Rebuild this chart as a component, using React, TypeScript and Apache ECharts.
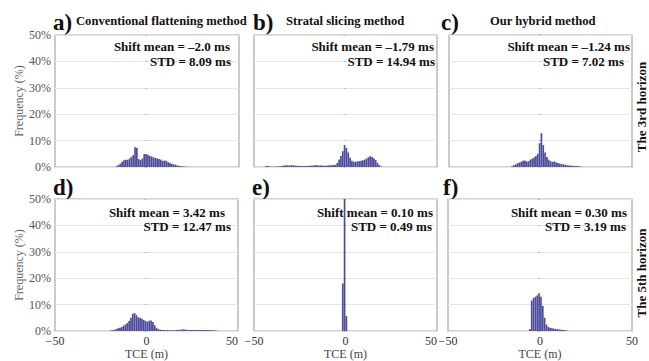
import React, { useEffect, useRef } from "react";
import * as echarts from "echarts";

// Histogram data: frequency (%) per 1 m TCE bin, starting at the given bin edge
const binStartA = -17;
const freqA = [0.3, 0.8, 1.3, 2.0, 2.6, 2.8, 2.7, 3.2, 3.8, 4.5, 7.5, 7.3, 3.0, 2.6, 3.2, 4.9, 4.9, 4.6, 4.2, 4.0, 3.7, 3.4, 3.2, 3.0, 2.8, 2.3, 2.5, 2.3, 1.8, 1.5, 1.2, 1.0, 0.9, 0.6, 0.4, 0.3, 0.2, 0.1, 0.1];

const binStartB = -44;
const freqB = [0.4, 0.4, 0.2, 0.1, 0.1, 0.1, 0.2, 0.2, 0.3, 0.4, 0.6, 0.7, 0.6, 0.6, 0.7, 0.6, 0.5, 0.5, 0.4, 0.4, 0.4, 0.3, 0.4, 0.4, 0.5, 0.5, 0.6, 0.7, 0.7, 0.6, 0.6, 0.5, 0.5, 0.5, 0.6, 0.7, 0.7, 0.8, 0.8, 1.5, 2.8, 4.2, 6.0, 8.3, 7.2, 5.5, 3.5, 2.4, 2.0, 2.0, 2.1, 2.2, 2.4, 2.6, 2.8, 3.2, 3.7, 4.1, 3.8, 3.3, 2.6, 1.6, 0.7, 0.2];

const binStartC = -16;
const freqC = [0.3, 0.7, 1.0, 1.4, 1.7, 2.0, 2.4, 2.5, 2.1, 2.2, 2.8, 3.2, 3.6, 4.2, 5.0, 9.0, 12.8, 8.3, 5.5, 3.8, 2.8, 2.2, 2.0, 2.1, 1.8, 1.5, 1.3, 1.1, 1.0, 0.8, 0.7, 0.6, 0.5, 0.5, 0.4, 0.4, 0.3, 0.2, 0.1];

const binStartD = -20;
const freqD = [0.2, 0.3, 0.5, 0.7, 1.0, 1.2, 1.5, 2.0, 2.5, 3.0, 3.8, 5.0, 6.5, 6.8, 6.0, 5.2, 5.0, 4.6, 4.2, 3.8, 3.5, 3.9, 4.0, 3.4, 2.2, 1.2, 0.7, 0.5, 0.4, 0.4, 0.3, 0.3, 0.3, 0.3, 0.3, 0.3, 0.4, 0.4, 0.5, 0.6, 0.6, 0.5, 0.4, 0.4, 0.4, 0.4, 0.4, 0.4, 0.4, 0.4, 0.4, 0.4, 0.4, 0.4, 0.4, 0.3, 0.3, 0.2, 0.1];

const binStartE = -2;
const freqE = [18.0, 76.0, 5.7];

const binStartF = -6;
const freqF = [0.8, 11.5, 12.5, 13.0, 13.5, 14.3, 13.0, 9.5, 5.0, 2.5, 1.6, 1.2, 1.0, 0.9, 0.8, 0.7, 0.6, 0.5, 0.4, 0.3, 0.2];

const panelLetters = ["a)", "b)", "c)", "d)", "e)", "f)"];
const methodTitles = ["Conventional flattening method", "Stratal slicing method", "Our hybrid method"];
const shiftMeans = ["\u20132.0", "\u20131.79", "\u20131.24", "3.42", "0.10", "0.30"];
const stds = ["8.09", "14.94", "7.02", "12.47", "0.49", "3.19"];
const rowLabels = ["The 3rd horizon", "The 5th horizon"];
const yTicks = [0, 10, 20, 30, 40, 50];

const starts = [binStartA, binStartB, binStartC, binStartD, binStartE, binStartF];
const freqs = [freqA, freqB, freqC, freqD, freqE, freqF];

// layout
const grids = [
  { left: 55, top: 35, width: 184, height: 132 },
  { left: 254, top: 35, width: 183, height: 132 },
  { left: 449, top: 35, width: 183, height: 132 },
  { left: 55, top: 199, width: 183, height: 133 },
  { left: 254, top: 199, width: 183, height: 133 },
  { left: 448, top: 199, width: 184, height: 133 },
];
const letterPos = [
  [53, 22], [253, 22], [441, 22], [53, 187], [252, 187], [443, 187],
];
const titlePos = [[76, 21], [286, 21], [490, 21]];
const annotPos = [
  [230, 46, 231, 61],
  [434, 46, 435, 61],
  [630, 46, 624, 61],
  [225, 212, 231, 226],
  [433, 212, 432, 226],
  [627, 212, 626, 226],
];
const rowLabelPos = [[641, 107], [641, 273]];

const SERIF = '"Liberation Serif", "Times New Roman", serif';
const BAR = "#4b4b9d";

export default function App() {
  const ref = useRef<HTMLDivElement>(null);
  useEffect(() => {
    if (!ref.current) return;
    const chart = echarts.init(ref.current, undefined, { renderer: "svg" });
    const fmtX = (v: number) => (v < 0 ? "\u2212" + Math.abs(v) : String(v));

    const xAxis = grids.map((_, i) => ({
      type: "value",
      gridIndex: i,
      min: -50,
      max: 50,
      interval: 50,
      axisLine: { show: false },
      axisTick: { show: false },
      splitLine: { show: false },
      axisLabel: {
        show: i >= 3,
        margin: 4,
        fontFamily: SERIF,
        fontSize: 12,
        color: "#333",
        formatter: fmtX,
        showMinLabel: true,
        showMaxLabel: true,
        alignMaxLabel: i === 3 || i === 4 ? "right" : "center",
      },
      name: i >= 3 ? "TCE (m)" : "",
      nameLocation: "middle",
      nameGap: 17,
      nameTextStyle: { fontFamily: SERIF, fontSize: 12, color: "#444" },
    }));

    const yAxis = grids.map((_, i) => ({
      type: "value",
      gridIndex: i,
      min: yTicks[0],
      max: yTicks[yTicks.length - 1],
      interval: 10,
      axisLine: { show: false },
      axisTick: { show: true, length: 2, lineStyle: { color: "#bbb" } },
      splitLine: { show: true, lineStyle: { color: "#e6e6e6", width: 1 } },
      axisLabel: {
        show: i % 3 === 0,
        margin: 4,
        fontFamily: SERIF,
        fontSize: 12,
        color: "#555",
        formatter: "{value}%",
      },
      name: i % 3 === 0 ? "Frequency (%)" : "",
      nameLocation: "middle",
      nameGap: 30,
      nameTextStyle: { fontFamily: SERIF, fontSize: 12, color: "#666" },
    }));

    const series = freqs.map((arr, i) => ({
      type: "bar",
      xAxisIndex: i,
      yAxisIndex: i,
      barWidth: 1.7,
      clip: true,
      itemStyle: { color: BAR },
      data: arr.map((v, k) => [starts[i] + k + 0.5, v]),
      z: 3,
    }));

    const graphic: any[] = [];
    panelLetters.forEach((t, i) => {
      graphic.push({
        type: "text",
        x: letterPos[i][0],
        y: letterPos[i][1],
        style: {
          text: t,
          font: `bold 23px ${SERIF}`,
          fill: "#111",
          textAlign: "left",
          textVerticalAlign: "middle",
        },
      });
    });
    methodTitles.forEach((t, i) => {
      graphic.push({
        type: "text",
        x: titlePos[i][0],
        y: titlePos[i][1],
        style: {
          text: t,
          font: `bold 12.6px ${SERIF}`,
          fill: "#111",
          textAlign: "left",
          textVerticalAlign: "middle",
        },
      });
    });
    shiftMeans.forEach((m, i) => {
      const p = annotPos[i];
      graphic.push({
        type: "text",
        x: p[0],
        y: p[1],
        z: 1,
        style: {
          text: `Shift mean = ${m} ms`,
          font: `bold 13px ${SERIF}`,
          fill: "#111",
          textAlign: "right",
          textVerticalAlign: "middle",
        },
      });
      graphic.push({
        type: "text",
        x: p[2],
        y: p[3],
        z: 1,
        style: {
          text: `STD = ${stds[i]} ms`,
          font: `bold 13px ${SERIF}`,
          fill: "#111",
          textAlign: "right",
          textVerticalAlign: "middle",
        },
      });
    });
    rowLabels.forEach((t, i) => {
      graphic.push({
        type: "text",
        x: rowLabelPos[i][0],
        y: rowLabelPos[i][1],
        rotation: Math.PI / 2,
        style: {
          text: t,
          font: `bold 13px ${SERIF}`,
          fill: "#111",
          textAlign: "center",
          textVerticalAlign: "middle",
        },
      });
    });

    chart.setOption({
      animation: false,
      backgroundColor: "#fff",
      grid: grids.map((g) => ({
        ...g,
        show: true,
        borderColor: "#a8a8a8",
        borderWidth: 1.2,
        backgroundColor: "transparent",
        containLabel: false,
      })),
      xAxis,
      yAxis,
      series,
      graphic,
    } as any);
    return () => chart.dispose();
  }, []);
  return (
    <div
      ref={ref}
      style={{ position: "fixed", left: 0, top: 0, width: 649, height: 361 }}
    />
  );
}
